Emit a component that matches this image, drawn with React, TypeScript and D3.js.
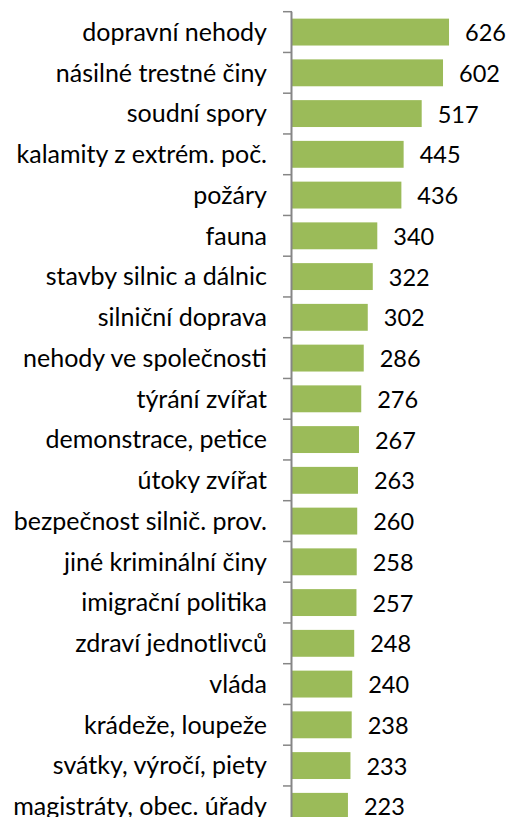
import React from "react";
import * as d3 from "d3";

const categories = [
  "dopravní nehody",
  "násilné trestné činy",
  "soudní spory",
  "kalamity z extrém. poč.",
  "požáry",
  "fauna",
  "stavby silnic a dálnic",
  "silniční doprava",
  "nehody ve společnosti",
  "týrání zvířat",
  "demonstrace, petice",
  "útoky zvířat",
  "bezpečnost silnič. prov.",
  "jiné kriminální činy",
  "imigrační politika",
  "zdraví jednotlivců",
  "vláda",
  "krádeže, loupeže",
  "svátky, výročí, piety",
  "magistráty, obec. úřady",
];
const values = [626, 602, 517, 445, 436, 340, 322, 302, 286, 276, 267, 263, 260, 258, 257, 248, 240, 238, 233, 223];

const W = 508;
const H = 817;
const FONT = "Lato, 'Open Sans', sans-serif";

export default function App() {
  const x = d3.scaleLinear().domain([0, 700]).range([292, 467.6]);
  const step0 = 40.75;
  const top = 11.7;
  const y = d3
    .scaleBand<string>()
    .domain(categories)
    .range([top, top + step0 * categories.length])
    .paddingInner(0.34)
    .paddingOuter(0.17);
  const step = y.step();
  const tickYs = d3.range(categories.length + 1).map((i) => top + i * step);

  return (
    <svg
      width={W}
      height={H}
      style={{ position: "absolute", left: 0, top: 0, background: "#fff" }}
      fontFamily={FONT}
    >
      {categories.map((c, i) => (
        <g key={c}>
          <rect
            x={x(0)}
            y={y(c)}
            width={x(values[i]) - x(0)}
            height={y.bandwidth()}
            fill="#9BBB59"
          />
          <text
            x={267}
            y={(y(c) as number) + y.bandwidth() / 2}
            dy="0.35em"
            textAnchor="end"
            fontSize={25}
            fill="#000"
          >
            {c}
          </text>
          <text
            x={x(values[i]) + 16}
            y={(y(c) as number) + y.bandwidth() / 2}
            dy="0.38em"
            textAnchor="start"
            fontSize={23.5}
            fill="#000"
          >
            {values[i]}
          </text>
        </g>
      ))}
      {tickYs.map((t, i) => (
        <line key={i} x1={283} x2={292} y1={t} y2={t} stroke="#868686" strokeWidth={1.5} />
      ))}
      <line x1={291.5} x2={291.5} y1={tickYs[0]} y2={H} stroke="#868686" strokeWidth={2} />
    </svg>
  );
}
